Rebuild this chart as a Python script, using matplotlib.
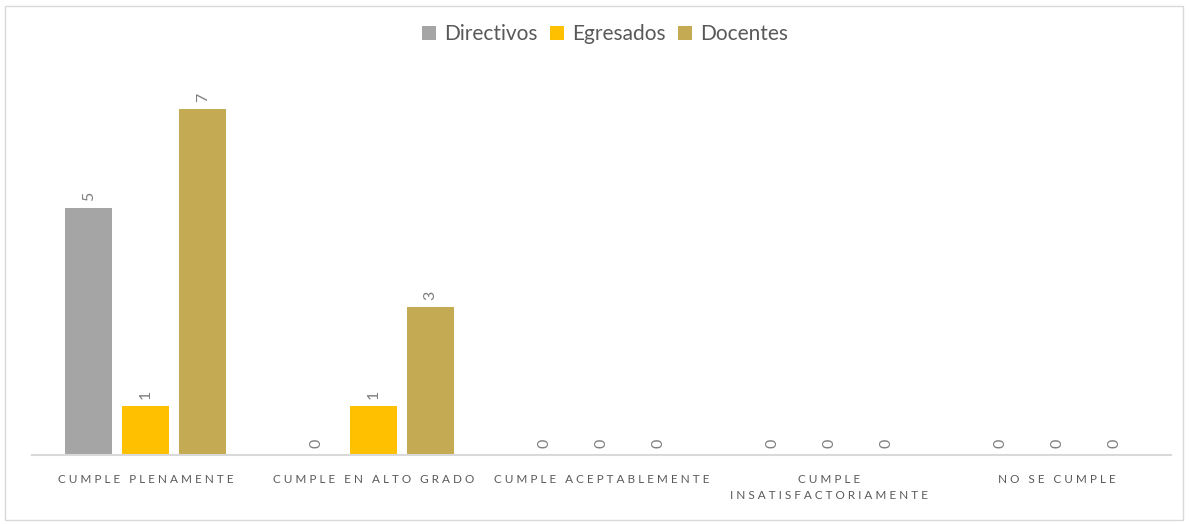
import matplotlib as mpl
mpl.use('agg')
import matplotlib.pyplot as plt
from matplotlib.patches import Rectangle
import numpy as np

categorias = ['CUMPLE PLENAMENTE', 'CUMPLE EN ALTO GRADO', 'CUMPLE ACEPTABLEMENTE',
              'CUMPLE\nINSATISFACTORIAMENTE', 'NO SE CUMPLE']
series = ['Directivos', 'Egresados', 'Docentes']
directivos = [5, 0, 0, 0, 0]
egresados = [1, 1, 0, 0, 0]
docentes = [7, 3, 0, 0, 0]
colores = ['#A5A5A5', '#FFC000', '#C4AA52']

def espaciar(txt):
    # imitate Excel letter spacing
    return '\n'.join('   '.join(' '.join(p) for p in linea.split(' '))
                     for linea in txt.split('\n'))

plt.rcParams['font.family'] = ['Lato', 'DejaVu Sans']

fig = plt.figure(figsize=(11.89, 5.24), dpi=100)
fig.patches.append(Rectangle((5/1189, 4/524), 1178/1189, 514/524, transform=fig.transFigure,
                             fill=False, edgecolor='#D9D9D9', linewidth=1))
ax = fig.add_axes([32/1189, (524-455)/524, 1139/1189, 375/524])

x = np.arange(len(categorias))
ancho = 0.206
paso = 0.25
for i, (nombre, vals) in enumerate(zip(series, [directivos, egresados, docentes])):
    pos = x + (i - 1) * paso
    bars = ax.bar(pos, vals, ancho, color=colores[i], label=nombre, zorder=2)
    for b, v in zip(bars, vals):
        ax.annotate(str(v), (b.get_x() + b.get_width()/2, v), xytext=(0, 5),
                    textcoords='offset points', rotation=90, ha='center', va='bottom',
                    fontsize=11.5, color='#7F7F7F')

ax.set_xlim(-0.5, len(categorias) - 0.5)
ax.set_ylim(0, 375/49.4)
ax.set_yticks([])
ax.set_xticks(x)
ax.set_xticklabels([espaciar(c) for c in categorias], fontsize=8.5, color='#595959',
                   linespacing=1.5)
ax.tick_params(axis='x', length=0, pad=14)
for s in ['top', 'right', 'left']:
    ax.spines[s].set_visible(False)
ax.spines['bottom'].set_color('#D9D9D9')
ax.spines['bottom'].set_linewidth(1.5)

fig.legend(loc='center', bbox_to_anchor=(605/1189, 1 - 34/524), ncol=3, frameon=False,
           fontsize=15, handlelength=0.65, handleheight=0.65, handletextpad=0.4,
           columnspacing=0.6, labelcolor='#595959')

plt.savefig('out.png', dpi=100)
